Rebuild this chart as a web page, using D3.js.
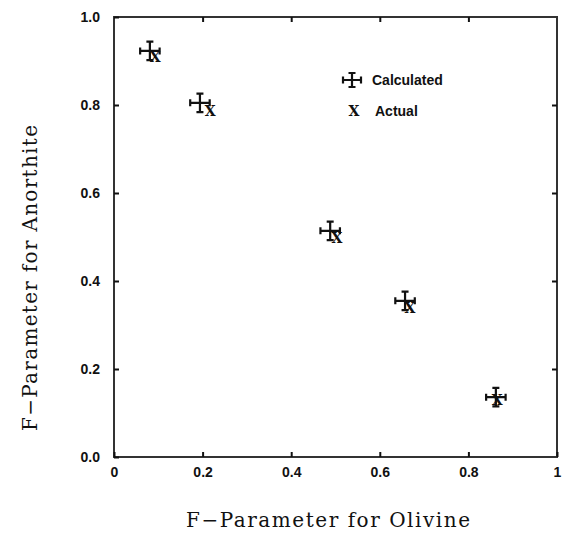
<!DOCTYPE html>
<html>
<head>
<meta charset="utf-8">
<script src="https://cdn.jsdelivr.net/npm/d3@7"></script>
<style>
  body { margin: 0; background: #fff; }
  svg { display: block; }
  .tick text { font-family: "Liberation Sans", Arial, sans-serif; font-weight: bold; font-size: 14px; fill: #111; }
  .title { font-family: "DejaVu Serif", "Liberation Serif", serif; font-size: 20px; fill: #111; }
  .legend { font-family: "Liberation Sans", Arial, sans-serif; font-weight: bold; font-size: 14px; fill: #111; }
  .xmark { font-family: "DejaVu Serif", "Liberation Serif", serif; font-weight: bold; font-size: 14px; fill: #111; }
</style>
</head>
<body>
<div id="chart"></div>
<script>
const xTicks = [0, 0.2, 0.4, 0.6, 0.8, 1],
      xTickLabels = ['0', '0.2', '0.4', '0.6', '0.8', '1'],
      yTicks = [0, 0.2, 0.4, 0.6, 0.8, 1],
      yTickLabels = ['0.0', '0.2', '0.4', '0.6', '0.8', '1.0'];

// calculated values (with error bars)
const olivineCalc   = [0.081, 0.194, 0.488, 0.657, 0.862],
      anorthiteCalc = [0.923, 0.805, 0.514, 0.355, 0.136],
      olivineErr    = [0.022, 0.022, 0.022, 0.022, 0.022],
      anorthiteErr  = [0.021, 0.021, 0.021, 0.021, 0.021];

// actual values
const olivineActual   = [0.093, 0.217, 0.503, 0.668, 0.865],
      anorthiteActual = [0.909, 0.786, 0.498, 0.339, 0.130];

const width = 566, height = 533;
const margin = { top: 17, right: 9, bottom: 76, left: 114 };

const svg = d3.select('#chart').append('svg')
  .attr('width', width)
  .attr('height', height);

const x = d3.scaleLinear().domain([0, 1]).range([margin.left, width - margin.right]);
const y = d3.scaleLinear().domain([0, 1]).range([height - margin.bottom, margin.top]);

const ink = '#111';

// frame
svg.append('rect')
  .attr('x', x(0)).attr('y', y(1))
  .attr('width', x(1) - x(0)).attr('height', y(0) - y(1))
  .attr('fill', 'none').attr('stroke', '#333').attr('stroke-width', 2);

// axes with inward ticks
const xAxis = d3.axisBottom(x).tickValues(xTicks)
  .tickFormat((d, i) => xTickLabels[i]).tickSizeInner(-5).tickSizeOuter(0).tickPadding(10);
const yAxis = d3.axisLeft(y).tickValues(yTicks)
  .tickFormat((d, i) => yTickLabels[i]).tickSizeInner(-5).tickSizeOuter(0).tickPadding(14);

const gx = svg.append('g').attr('transform', 'translate(0,' + y(0) + ')').call(xAxis);
const gy = svg.append('g').attr('transform', 'translate(' + x(0) + ',0)').call(yAxis);
[gx, gy].forEach(g => {
  g.select('.domain').remove();
  g.selectAll('.tick line').attr('stroke', ink).attr('stroke-width', 2);
});
gx.selectAll('.tick text').attr('dy', '0.71em');

// top and right ticks
const gxt = svg.append('g').attr('transform', 'translate(0,' + y(1) + ')')
  .call(d3.axisTop(x).tickValues(xTicks.slice(1, -1)).tickSizeInner(-5).tickSizeOuter(0).tickFormat(''));
const gyr = svg.append('g').attr('transform', 'translate(' + x(1) + ',0)')
  .call(d3.axisRight(y).tickValues(yTicks.slice(1, -1)).tickSizeInner(-5).tickSizeOuter(0).tickFormat(''));
[gxt, gyr].forEach(g => {
  g.select('.domain').remove();
  g.selectAll('.tick line').attr('stroke', ink).attr('stroke-width', 2);
});

// axis titles
svg.append('text').attr('class', 'title')
  .attr('x', 328).attr('y', 527)
  .attr('text-anchor', 'middle')
  .attr('textLength', 284).attr('lengthAdjust', 'spacing')
  .text('F\u2212Parameter for Olivine');

svg.append('text').attr('class', 'title')
  .attr('transform', 'translate(37,' + 278 + ') rotate(-90)')
  .attr('text-anchor', 'middle')
  .attr('textLength', 306).attr('lengthAdjust', 'spacing')
  .text('F\u2212Parameter for Anorthite');

// error bar cross marker
function crossMarker(g, cx, cy, hx, hy) {
  const cap = 3.5;
  const p = d3.path();
  p.moveTo(cx - hx, cy); p.lineTo(cx + hx, cy);
  p.moveTo(cx, cy - hy); p.lineTo(cx, cy + hy);
  p.moveTo(cx - hx, cy - cap); p.lineTo(cx - hx, cy + cap);
  p.moveTo(cx + hx, cy - cap); p.lineTo(cx + hx, cy + cap);
  p.moveTo(cx - cap, cy - hy); p.lineTo(cx + cap, cy - hy);
  p.moveTo(cx - cap, cy + hy); p.lineTo(cx + cap, cy + hy);
  g.append('path').attr('d', p.toString())
    .attr('fill', 'none').attr('stroke', ink).attr('stroke-width', 2.2);
}

const calcG = svg.append('g');
olivineCalc.forEach((v, i) => {
  const cx = x(v), cy = y(anorthiteCalc[i]);
  crossMarker(calcG, cx, cy, x(v + olivineErr[i]) - cx, cy - y(anorthiteCalc[i] + anorthiteErr[i]));
});

svg.append('g').selectAll('text')
  .data(olivineActual)
  .join('text')
  .attr('class', 'xmark')
  .attr('x', d => x(d))
  .attr('y', (d, i) => y(anorthiteActual[i]))
  .attr('dy', '0.36em')
  .attr('text-anchor', 'middle')
  .text('X');

// legend
const lx = 352, ly = 80;
crossMarker(svg.append('g'), lx, ly, 9, 7);
svg.append('text').attr('class', 'legend').attr('x', lx + 20).attr('y', ly).attr('dy', '0.36em').text('Calculated');
svg.append('text').attr('class', 'xmark').attr('x', lx + 2).attr('y', ly + 31).attr('dy', '0.36em')
  .attr('text-anchor', 'middle').text('X');
svg.append('text').attr('class', 'legend').attr('x', lx + 23).attr('y', ly + 31).attr('dy', '0.36em').text('Actual');
</script>
</body>
</html>
